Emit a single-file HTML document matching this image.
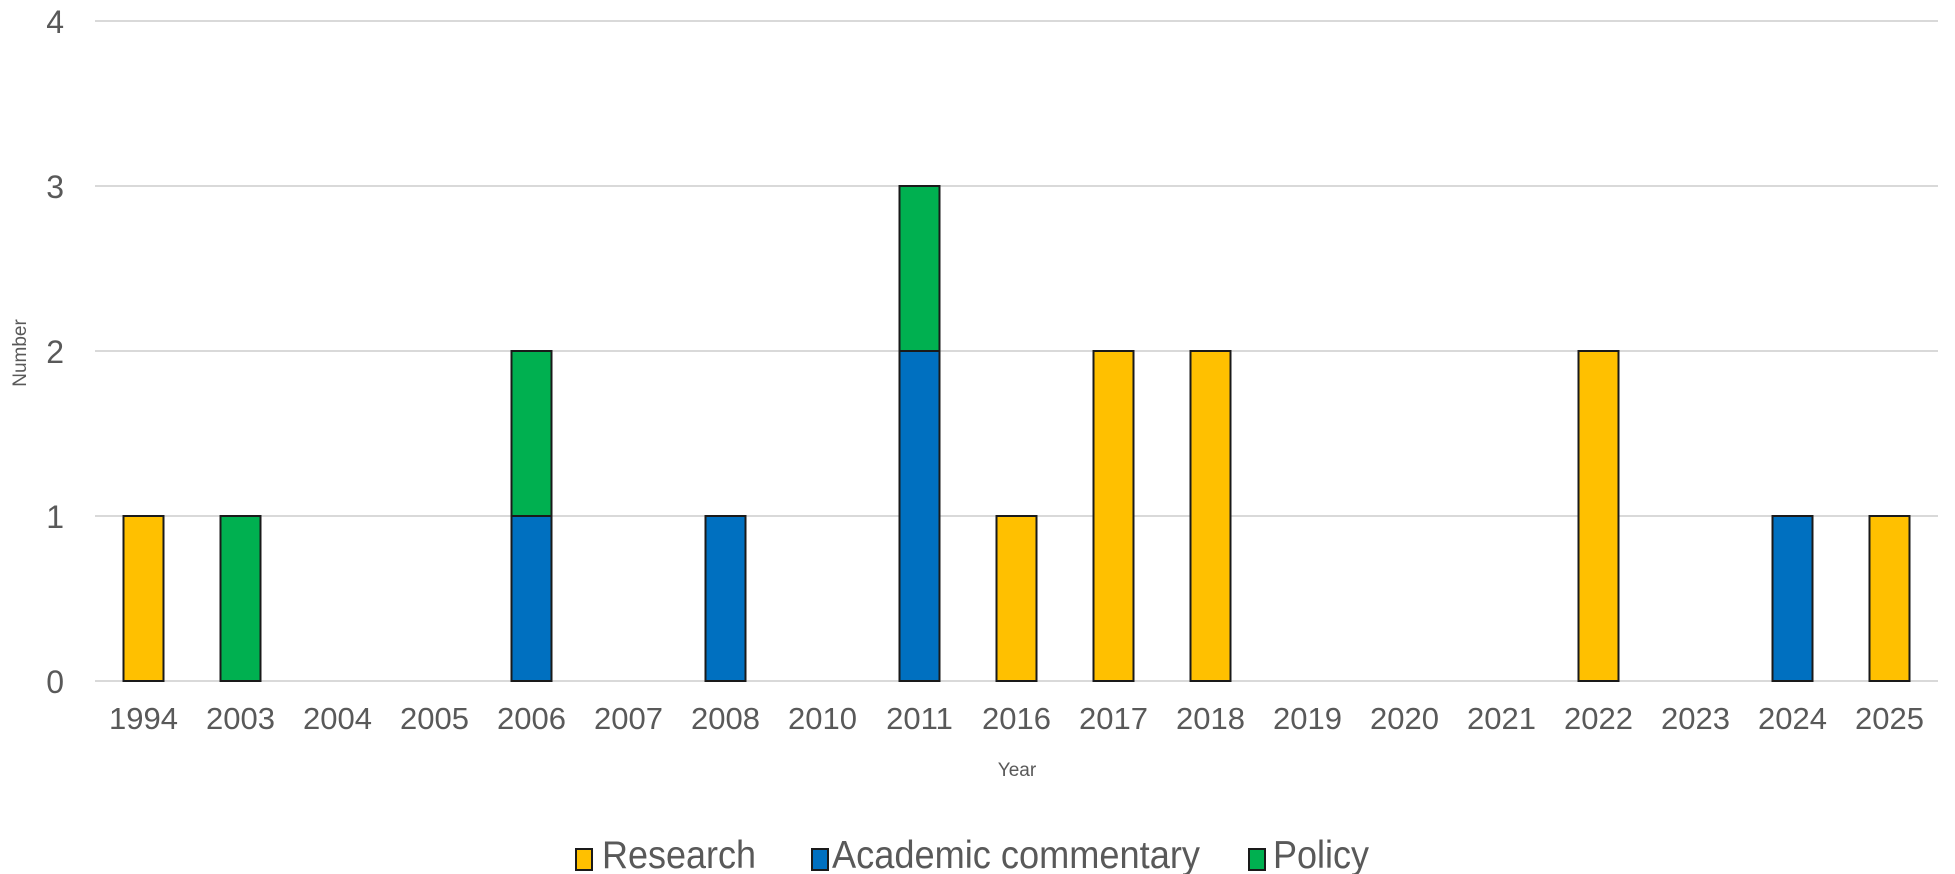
<!DOCTYPE html>
<html><head><meta charset="utf-8"><style>
html,body{margin:0;padding:0;background:#fff;}
svg{display:block;font-family:"Liberation Sans",Arial,sans-serif;}
</style></head><body>
<svg id="chart" width="1955" height="874" viewBox="0 0 1955 874"></svg>
<script>
const categories=["1994","2003","2004","2005","2006","2007","2008","2010","2011","2016","2017","2018","2019","2020","2021","2022","2023","2024","2025"];
const research=[1,0,0,0,0,0,0,0,0,1,2,2,0,0,0,2,0,0,1];
const academic=[0,0,0,0,1,0,1,0,2,0,0,0,0,0,0,0,0,1,0];
const policy=[0,1,0,0,1,0,0,0,1,0,0,0,0,0,0,0,0,0,0];
const yTicks=[0,1,2,3,4];
const seriesNames=["Research","Academic commentary","Policy"];
const colors=["#FFC000","#0070C0","#00B050"];

const svg=document.getElementById('chart');
const NS="http://www.w3.org/2000/svg";
const X0=95,X1=1938,Y0=681,Ytop=21,yMax=4;
const band=(X1-X0)/categories.length;
const barW=40;
function x(i){return X0+band*(i+0.5);}
function y(v){return Y0-(Y0-Ytop)*v/yMax;}
function mk(tag,attrs,text){const e=document.createElementNS(NS,tag);for(const k in attrs)e.setAttribute(k,attrs[k]);if(text!==undefined)e.textContent=text;svg.appendChild(e);return e;}

yTicks.forEach(t=>{
  const g=mk('line',{x1:X0,x2:X1,y1:y(t),y2:y(t),stroke:'#d9d9d9','stroke-width':2});
  
  
  const l=mk('text',{x:64,y:y(t)+12,'text-anchor':'end','font-size':32,fill:'#595959'},t);
  
  
});
categories.forEach((c,i)=>{
  const l=mk('text',{x:x(i),y:729,'text-anchor':'middle','font-size':31,fill:'#595959'},c);
  
  
  const vals=[research[i],academic[i],policy[i]];
  let base=0;
  vals.forEach((v,s)=>{
    if(v>0){
      const r=mk('rect',{x:x(i)-barW/2,y:y(base+v),width:barW,height:y(base)-y(base+v),fill:colors[s],stroke:'#1a1a1a','stroke-width':2});
      
      
      base+=v;
    }
  });
});
const xt=mk('text',{x:1017,y:776,'text-anchor':'middle','font-size':19,fill:'#595959'},'Year');


const yt=mk('text',{x:0,y:0,'text-anchor':'middle','font-size':19,fill:'#595959',transform:'translate(26,353) rotate(-90)'},'Number');


const legX=[576,812,1249];
const legTX=[602,832,1273];
const legW=[154,368,96];
seriesNames.forEach((n,s)=>{
  const r=mk('rect',{x:legX[s],y:849,width:16,height:21,fill:colors[s],stroke:'#1a1a1a','stroke-width':2});
  
  
  const t=mk('text',{x:legTX[s],y:868,'font-size':39,fill:'#595959',textLength:legW[s],lengthAdjust:'spacingAndGlyphs'},n);
  
  
});
</script>
</body></html>
